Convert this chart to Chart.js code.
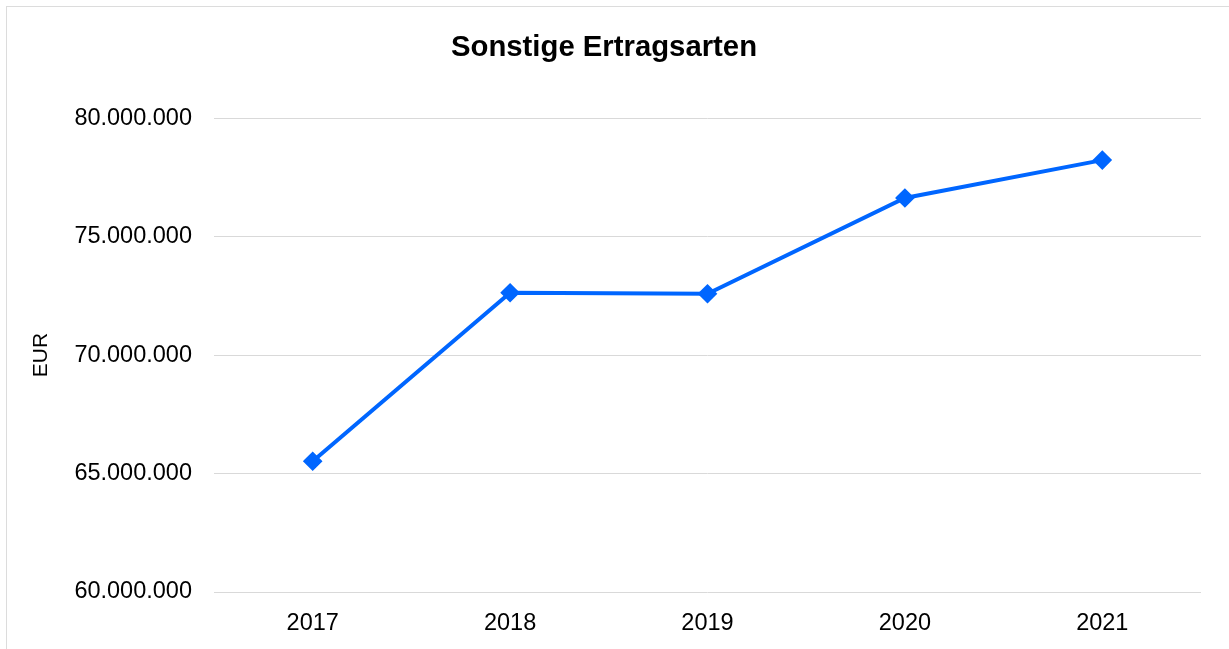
<!DOCTYPE html>
<html>
<head>
<meta charset="utf-8">
<script src="https://cdn.jsdelivr.net/npm/chart.js@4/dist/chart.umd.min.js"></script>
<style>
  html, body { margin: 0; padding: 0; background: #fff; overflow: hidden; }
  #frame {
    position: absolute; left: 6px; top: 6px;
    width: 1223px; height: 643px;
    border-left: 1px solid #dcdcdc; border-top: 1px solid #dcdcdc;
  }
  canvas { display: block; }
</style>
</head>
<body>
<div id="frame"><canvas id="ertrag_chart" width="1222" height="642"></canvas></div>
<script>
// Jahre und Werte (EUR)
const years = ["2017", "2018", "2019", "2020", "2021"];
const ertraege = [65520000, 72630000, 72590000, 76630000, 78230000];
const yTicks = [60000000, 65000000, 70000000, 75000000, 80000000];

// Zahlen mit Punkt als Tausendertrenner
function formatEUR(value) {
   return String(Math.round(value)).replace(/\B(?=(\d{3})+(?!\d))/g, ".");
}

const font = "'Liberation Sans', Arial, sans-serif";

const ctx = document.querySelector("#ertrag_chart").getContext("2d");
const chart = new Chart(ctx, {
   type: "line",
   data: {
      labels: years,
      datasets: [{
         label: "Sonstige Ertragsarten",
         data: ertraege,
         borderColor: "#0066ff",
         backgroundColor: "#0066ff",
         borderWidth: 4,
         pointStyle: "rectRot",
         pointRadius: 7,
         pointHoverRadius: 7,
         tension: 0,
         fill: false
      }]
   },
   options: {
      responsive: false,
      animation: false,
      events: [],
      layout: { padding: { left: 0, right: 28, top: 0, bottom: 0 } },
      plugins: {
         legend: { display: false },
         tooltip: { enabled: false },
         title: {
            display: true,
            text: "Sonstige Ertragsarten",
            color: "#000",
            font: { family: font, size: 29.3, weight: "bold" },
            padding: { top: 23, bottom: 53 }
         }
      },
      scales: {
         x: {
            offset: true,
            afterFit: axis => { axis.height = 57; },
            grid: { display: false, drawTicks: false },
            border: { display: false },
            ticks: {
               color: "#000",
               padding: 17,
               font: { family: font, size: 23.5 }
            }
         },
         y: {
            min: 60000000,
            max: 80000000,
            afterBuildTicks: axis => {
               axis.ticks = yTicks.map(v => ({ value: v }));
            },
            afterFit: axis => { axis.width = 207; },
            grid: { color: "#d9d9d9", lineWidth: 1, drawTicks: false },
            border: { display: false },
            ticks: {
               color: "#000",
               padding: 22,
               font: { family: font, size: 23.5 },
               callback: v => formatEUR(v)
            },
            title: {
               display: true,
               text: "EUR",
               color: "#000",
               font: { family: font, size: 21 },
               padding: { top: 22, bottom: 0 }
            }
         }
      }
   }
});
</script>
</body>
</html>
